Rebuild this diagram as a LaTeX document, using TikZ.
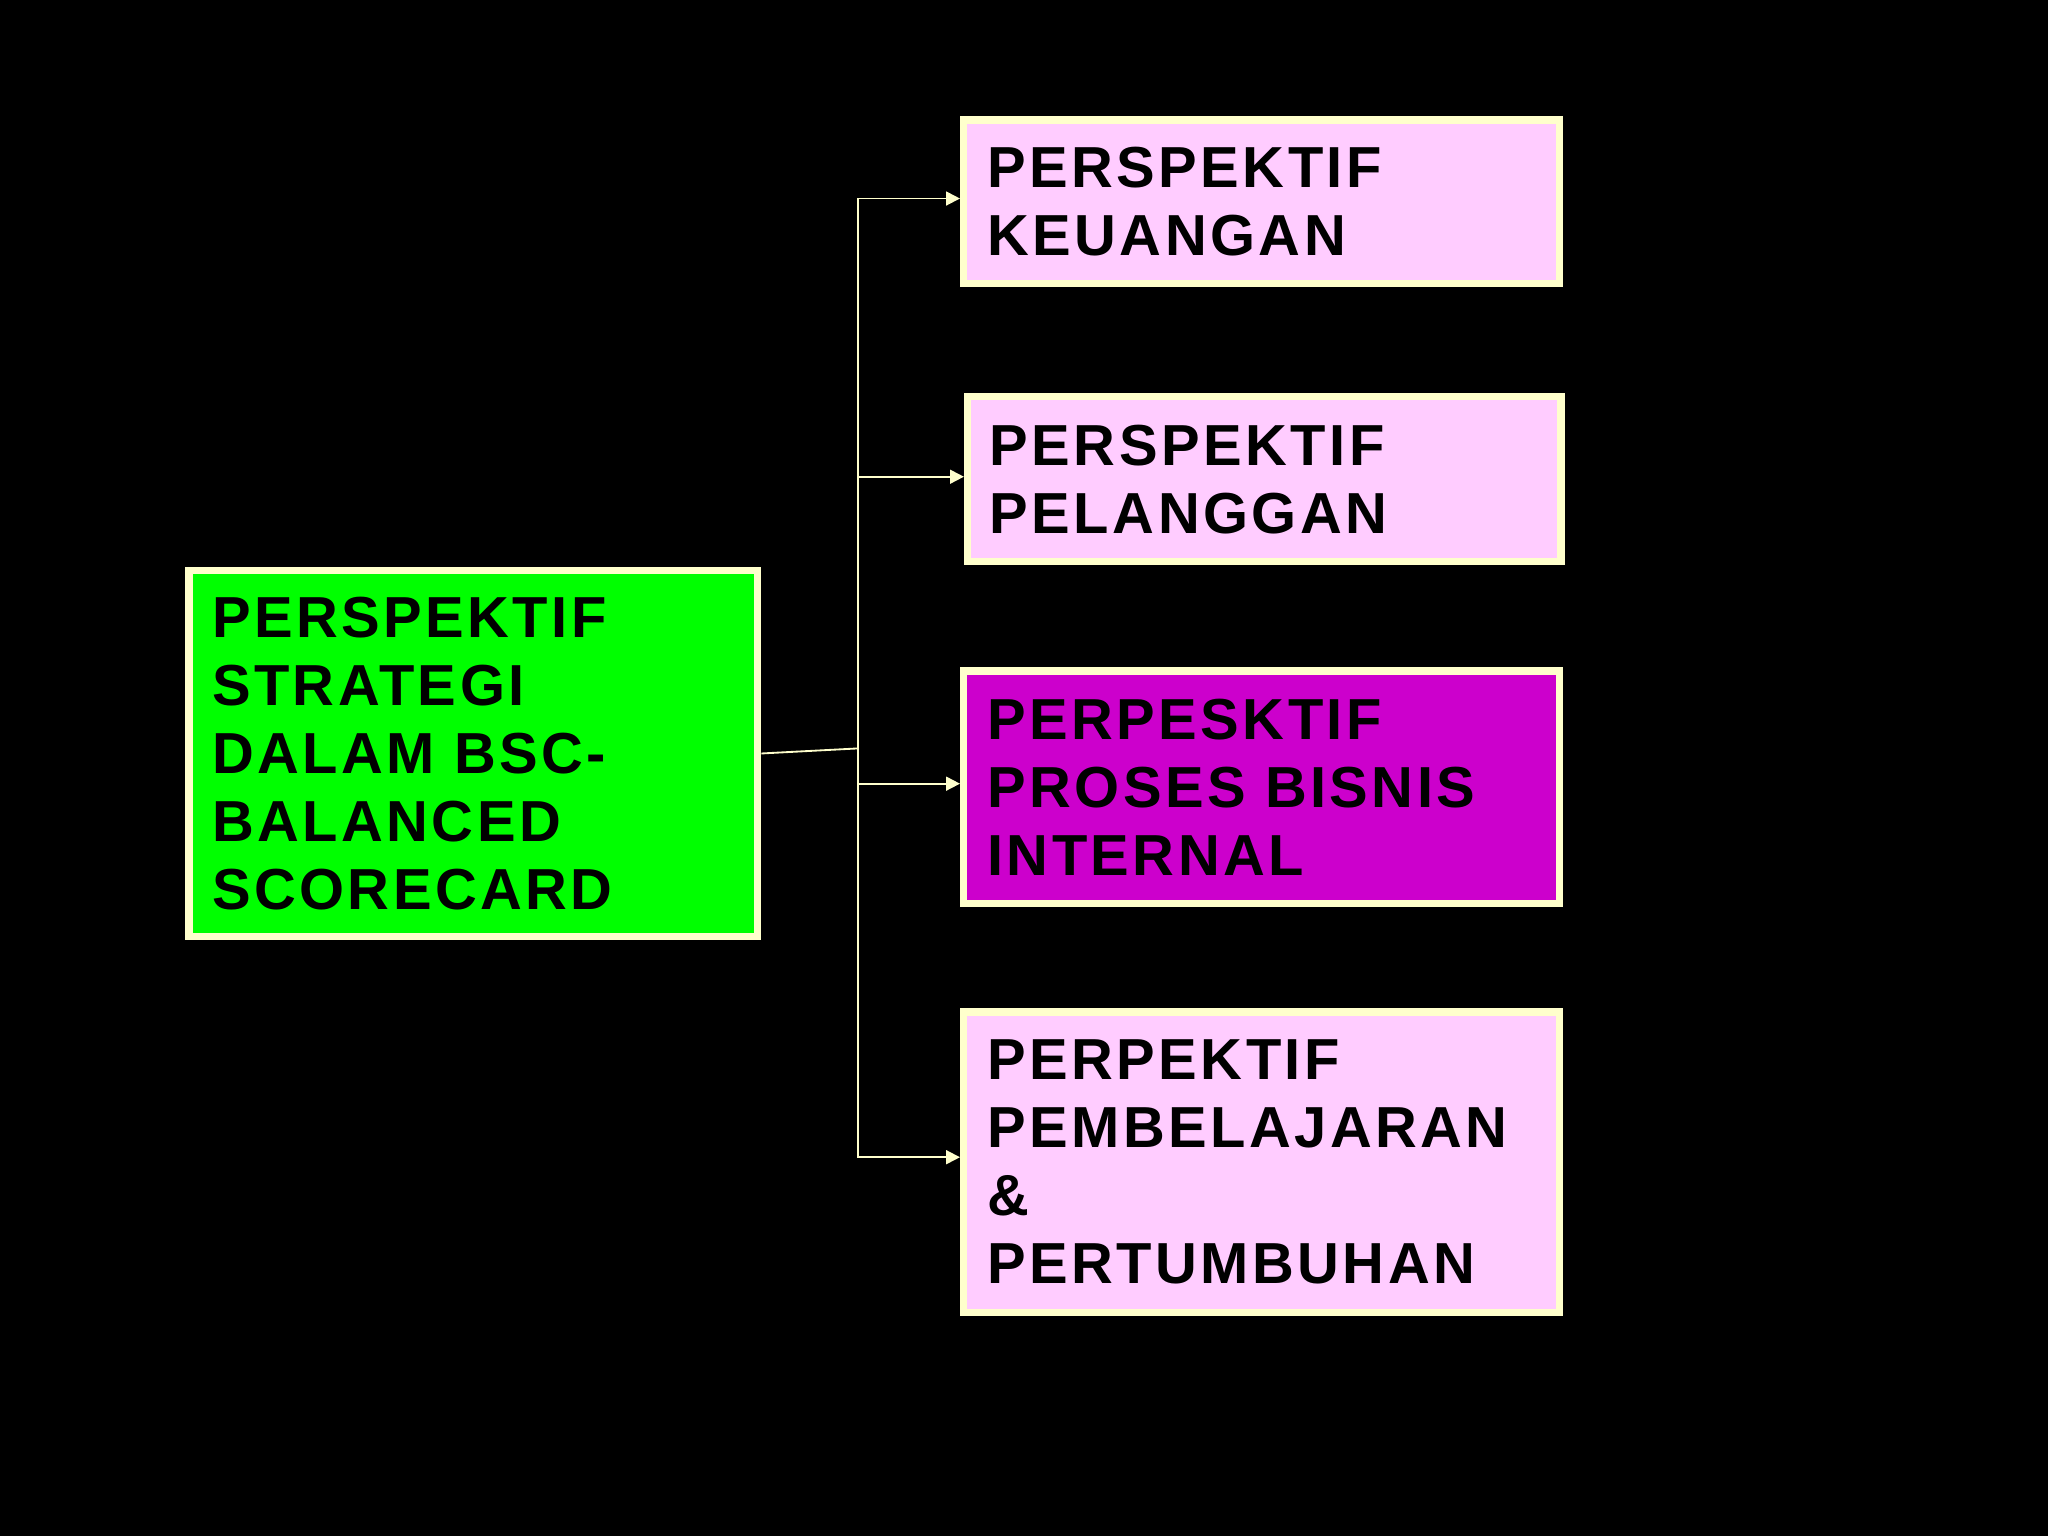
\documentclass[tikz,border=0pt]{standalone}
\usepackage{fontspec}
\setmainfont{Liberation Sans}[LetterSpace=6]
\usetikzlibrary{arrows.meta}
\definecolor{bord}{HTML}{FFFFCC}
\definecolor{pinkf}{HTML}{FFCCFF}
\definecolor{magf}{HTML}{CC00CC}
\definecolor{greenf}{HTML}{00FF00}
\begin{document}
\begin{tikzpicture}[x=0.01cm,y=-0.01cm,
  box/.style={draw=bord,line width=1.6pt,inner xsep=16\pgflinewidth,align=left,font=\fontsize{12.6}{14.8}\selectfont\bfseries,text=black,anchor=north west,inner xsep=0.17cm},
  conn/.style={draw=bord,line width=0.4pt},
  arr/.style={conn,-{Triangle[length=3pt,width=3pt]}}]
\fill[black] (0,0) rectangle (1568,1176);
\node[box,fill=greenf,minimum width=4.35cm,minimum height=2.8cm,text width=4.0cm] (g) at (142,434) {PERSPEKTIF\\STRATEGI\\DALAM BSC-\\BALANCED\\SCORECARD};
\node[box,fill=pinkf,minimum width=4.56cm,minimum height=1.25cm,text width=4.2cm] (a) at (735,89) {PERSPEKTIF\\KEUANGAN};
\node[box,fill=pinkf,minimum width=4.53cm,minimum height=1.26cm,text width=4.2cm] (b) at (738,301) {PERSPEKTIF\\PELANGGAN};
\node[box,fill=magf,minimum width=4.56cm,minimum height=1.78cm,text width=4.2cm] (c) at (735,511) {PERPESKTIF\\PROSES BISNIS\\INTERNAL};
\node[box,fill=pinkf,minimum width=4.56cm,minimum height=2.3cm,text width=4.2cm] (d) at (735,772) {PERPEKTIF\\PEMBELAJARAN\\\&\\PERTUMBUHAN};
\coordinate (j) at (657,573);
\draw[conn] (g.east) -- (j);
\draw[arr] (j) |- (a.west|-0,152);
\draw[arr] (j) |- (b.west|-0,365);
\draw[arr] (j) |- (c.west|-0,600);
\draw[arr] (j) |- (d.west|-0,886);
\end{tikzpicture}
\end{document}
